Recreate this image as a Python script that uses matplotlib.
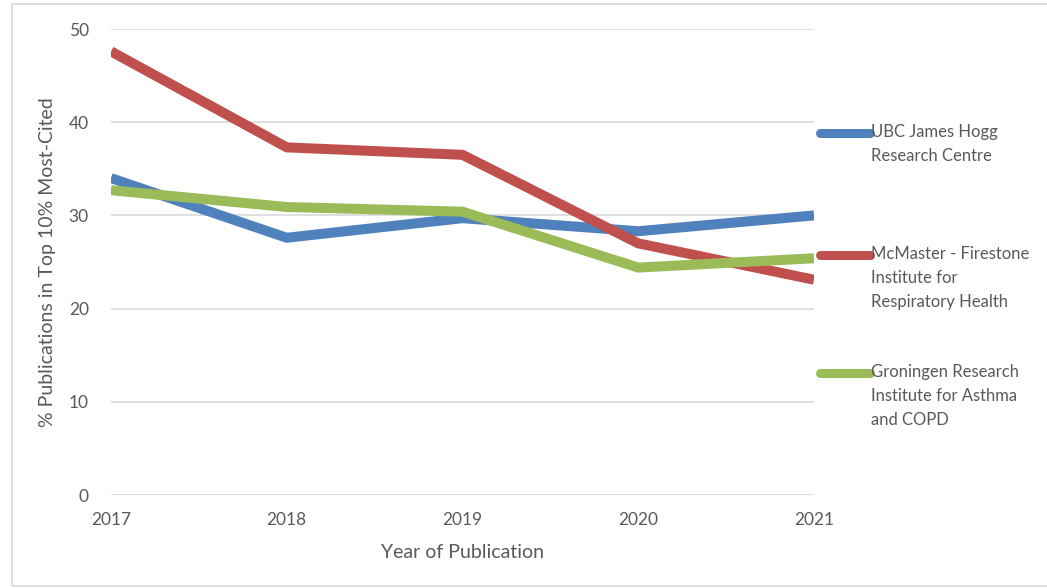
import matplotlib
matplotlib.use("Agg")
import matplotlib.pyplot as plt
from matplotlib.patches import Rectangle
from matplotlib.lines import Line2D

years = [2017, 2018, 2019, 2020, 2021]
ubc = [34.0, 27.6, 29.7, 28.3, 30.0]
mcmaster = [47.6, 37.3, 36.5, 27.0, 23.1]
groningen = [32.7, 30.9, 30.4, 24.4, 25.4]
series_names = ["UBC James Hogg\nResearch Centre",
                "McMaster - Firestone\nInstitute for\nRespiratory Health",
                "Groningen Research\nInstitute for Asthma\nand COPD"]
colors = ["#4F81BD", "#C0504D", "#9BBB59"]
yticks = [0, 10, 20, 30, 40, 50]

plt.rcParams['font.family'] = ['Lato', 'DejaVu Sans']
txt = "#595959"

W, H = 1047, 588
fig = plt.figure(figsize=(W / 100, H / 100), dpi=100)
ax = fig.add_axes([111 / W, 1 - 495 / H, (814 - 111) / W, (495 - 29) / H])

for vals, c, name in zip([ubc, mcmaster, groningen], colors, series_names):
    ax.plot(years, vals, color=c, lw=7.2, solid_capstyle='butt',
            solid_joinstyle='miter', label=name, zorder=3)

ax.set_xlim(2017, 2021)
ax.set_ylim(0, 50)
ax.set_xticks(years)
ax.set_yticks(yticks)
ax.grid(axis='y', color='#D9D9D9', lw=1.2)
ax.set_axisbelow(True)
for s in ax.spines.values():
    s.set_visible(False)
ax.tick_params(length=0, colors=txt, labelsize=12.5, pad=12)
ax.tick_params(axis='y', pad=16)
ax.set_xlabel("Year of Publication", color=txt, fontsize=14, labelpad=12)
ax.set_ylabel("% Publications in Top 10% Most-Cited", color=txt, fontsize=14, labelpad=9)

# manual legend: line aligned with first text line
leg_y = [133, 255, 373]
for y, c, name in zip(leg_y, colors, series_names):
    fig.add_artist(Line2D([820 / W, 870 / W], [1 - y / H, 1 - y / H],
                          transform=fig.transFigure, color=c, lw=6.5,
                          solid_capstyle='round'))
    fig.text(871 / W, 1 - (y - 9) / H, name, ha='left', va='top',
             color=txt, fontsize=12, linespacing=1.62)

fig.patches.append(Rectangle((12 / W, 1 - 586 / H), (W - 10) / W, (586 - 4) / H,
                             transform=fig.transFigure, fill=False,
                             edgecolor='#D9D9D9', lw=1.2))

fig.savefig("out.png", dpi=100)
